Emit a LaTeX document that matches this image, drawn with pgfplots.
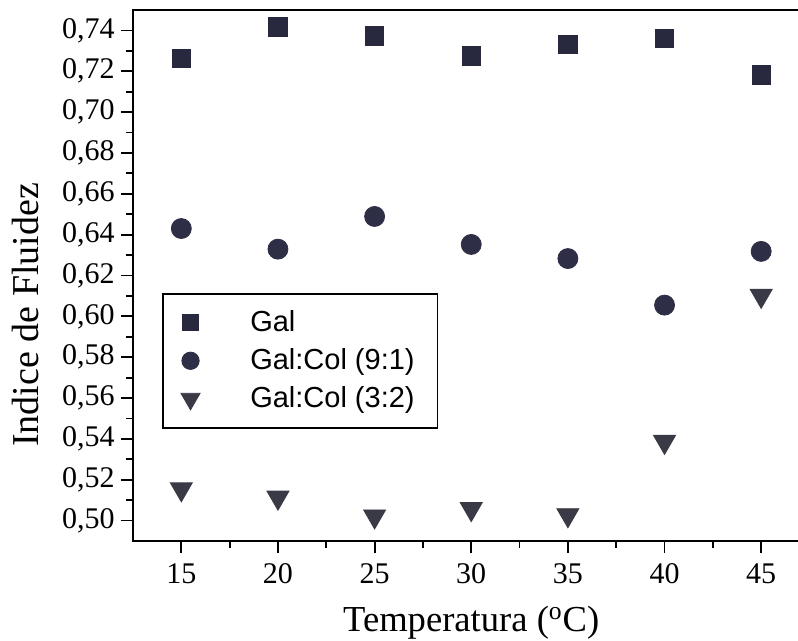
\documentclass[border=0pt]{standalone}
\usepackage{fontspec}
\setmainfont{Liberation Serif}
\newfontfamily\legendfont{Liberation Sans}
\usepackage{pgfplots}
\pgfplotsset{compat=1.18}

\definecolor{galcol}{RGB}{40,40,62}
\definecolor{ninecol}{RGB}{46,46,70}
\definecolor{threecol}{RGB}{58,58,70}

\begin{document}
\begin{tikzpicture}
\useasboundingbox (-66.5pt,-50pt) rectangle (332.5pt,270.5pt);
\clip (-66.5pt,-50pt) rectangle (332.5pt,270.5pt);
\begin{axis}[
  scale only axis,
  width=338.25pt, height=265.5pt,
  xmin=12.5, xmax=47.5,
  ymin=0.49, ymax=0.75,
  xtick={15,20,25,30,35,40,45},
  ytick={0.50,0.52,0.54,0.56,0.58,0.60,0.62,0.64,0.66,0.68,0.70,0.72,0.74},
  minor x tick num=1,
  minor y tick num=1,
  tick align=outside,
  tick pos=left,
  major tick length=6pt,
  minor tick length=3.5pt,
  axis line style={line width=1pt},
  every tick/.style={black, line width=0.9pt},
  /pgf/number format/.cd, use comma, fixed, fixed zerofill, precision=2, assume math mode=true,
  /pgfplots/.cd,
  xticklabel style={/pgf/number format/precision=0, /pgf/number format/fixed zerofill=false},
  tick label style={font=\fontsize{15}{18}\selectfont},
  yticklabel style={inner sep=0pt, xshift=-3pt},
  xticklabel style={inner sep=0pt, yshift=-5pt},
  xlabel={Temperatura (\textsuperscript{o}C)},
  ylabel={Indice de Fluidez},
  xlabel style={font=\fontsize{18.3}{22}\selectfont, at={(axis description cs:0.5,-0.171)}, anchor=base},
  ylabel style={font=\fontsize{19}{23}\selectfont, at={(axis description cs:-0.139,0.426)}, anchor=base, rotate=0},
  legend style={
    at={(0.0429,0.467)}, anchor=north west,
    draw=black, line width=0.75pt,
    font=\legendfont\fontsize{14.5}{17}\selectfont,
    inner xsep=0pt, inner ysep=8.5pt,
    row sep=7pt,
    nodes={inner sep=0pt, anchor=west},
  },
  legend cell align=left,
  % legend symbols a little smaller than the plotted ones
  legend image code/.code={
    \path (0pt,0pt) (43pt,0pt);
    \draw[#1, line width=0.4pt, every mark/.append style={scale=0.87}] plot coordinates {(13.5pt,0pt)};
  },
]
\addplot[only marks, mark=square*, mark size=4.6pt, color=galcol, mark options={fill=galcol}]
  coordinates {(15,0.7263) (20,0.7417) (25,0.7373) (30,0.7275) (35,0.7331) (40,0.7362) (45,0.7182)};
\addlegendentry{Gal}
\addplot[only marks, mark=*, mark size=5pt, color=ninecol, mark options={fill=ninecol}]
  coordinates {(15,0.6430) (20,0.6329) (25,0.6489) (30,0.6352) (35,0.6283) (40,0.6055) (45,0.6318)};
\addlegendentry{Gal:Col (9:1)}
\addplot[only marks, mark=triangle*, mark size=6.35pt, color=threecol, mark options={fill=threecol, rotate=180}]
  coordinates {(15,0.5154) (20,0.5113) (25,0.5021) (30,0.5057) (35,0.5027) (40,0.5386) (45,0.6101)};
\addlegendentry{Gal:Col (3:2)\kern11.5pt}
\end{axis}
\end{tikzpicture}
\end{document}
